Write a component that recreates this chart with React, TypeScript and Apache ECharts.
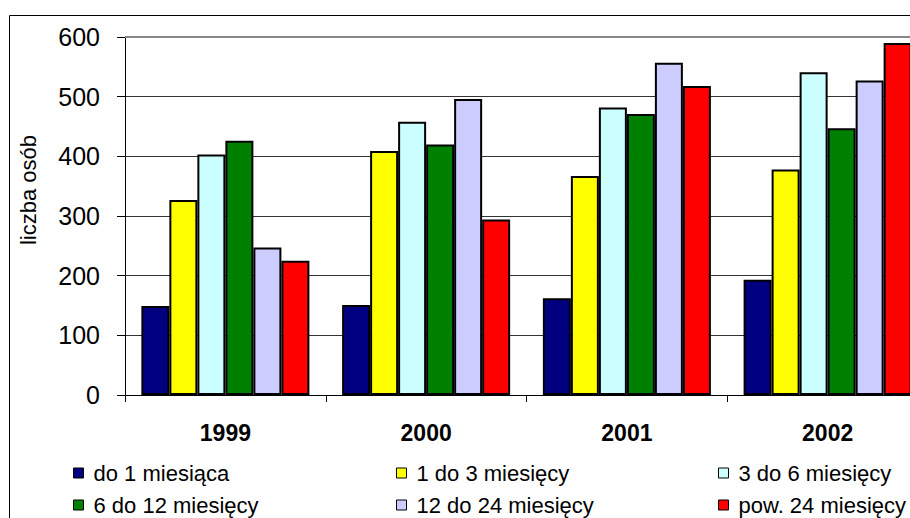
import React, { useEffect, useRef } from "react";
import * as echarts from "echarts";

const categories = ["1999", "2000", "2001", "2002"];
const seriesNames = [
  "do 1 miesiąca",
  "1 do 3 miesięcy",
  "3 do 6 miesięcy",
  "6 do 12 miesięcy",
  "12 do 24 miesięcy",
  "pow. 24 miesięcy",
];
const do1 = [149, 151, 162, 193];
const do1to3 = [327, 409, 367, 378];
const do3to6 = [403, 458, 482, 541];
const do6to12 = [426, 420, 471, 447];
const do12to24 = [247, 496, 557, 527];
const pow24 = [225, 294, 518, 590];
const seriesValues = [do1, do1to3, do3to6, do6to12, do12to24, pow24];
const colors = ["#000080", "#FFFF00", "#CCFFFF", "#008000", "#CCCCFF", "#FF0000"];
const yTicks = [0, 100, 200, 300, 400, 500, 600];
const yAxisTitle = "liczba osób";

const FONT = "'Liberation Sans', Arial, sans-serif";
const CHART_W = 1000;

export default function App() {
  const ref = useRef<HTMLDivElement>(null);
  useEffect(() => {
    if (!ref.current) return;
    const chart = echarts.init(ref.current, undefined, { renderer: "svg" });
    const legendPos = [
      { left: 73, top: 462 },
      { left: 396, top: 462 },
      { left: 718, top: 462 },
      { left: 73, top: 494 },
      { left: 396, top: 494 },
      { left: 718, top: 494 },
    ];
    chart.setOption({
      animation: false,
      backgroundColor: "#ffffff",
      textStyle: { fontFamily: FONT, color: "#000" },
      grid: { left: 125, right: CHART_W - 928, top: 37, bottom: 123, containLabel: false },
      legend: seriesNames.map((n, i) => ({
        data: [n],
        left: legendPos[i].left,
        top: legendPos[i].top,
        padding: 0,
        itemWidth: 10,
        itemHeight: 10,
        icon: "rect",
        itemStyle: { borderColor: "#000", borderWidth: 1 },
        textStyle: { fontFamily: FONT, fontSize: 22, color: "#000", padding: [0, 0, 0, 5] },
        selectedMode: false,
      })),
      xAxis: {
        type: "category",
        data: categories,
        axisLine: { show: true, lineStyle: { color: "#000", width: 1 } },
        axisTick: { show: true, length: 7, interval: 0, lineStyle: { color: "#000" } },
        axisLabel: { fontSize: 23, fontWeight: "bold", color: "#000", margin: 26, fontFamily: FONT },
        splitLine: { show: false },
      },
      yAxis: {
        type: "value",
        min: yTicks[0],
        max: yTicks[yTicks.length - 1],
        interval: 100,
        axisLine: { show: true, lineStyle: { color: "#000", width: 1 } },
        axisTick: { show: true, length: 8, lineStyle: { color: "#000" } },
        axisLabel: { fontSize: 25, color: "#000", margin: 25, fontFamily: FONT },
        splitLine: { show: true, showMaxLine: false, lineStyle: { color: "#333", width: 1 } },
      },
      graphic: [
        {
          type: "rect",
          shape: { x: 9.5, y: 15.5, width: 2000, height: 2000 },
          style: { fill: "none", stroke: "#000", lineWidth: 1 },
          silent: true,
          z: -1,
        },
        {
          type: "text",
          x: 28,
          y: 190,
          rotation: Math.PI / 2,
          style: {
            text: yAxisTitle,
            fontSize: 22,
            fontFamily: FONT,
            fill: "#000",
            textAlign: "center",
            textVerticalAlign: "middle",
          },
        },
      ],
      series: seriesNames.map((n, i) => ({
        name: n,
        type: "bar",
        data: seriesValues[i],
        barGap: "0%",
        barCategoryGap: "16.3%",
        itemStyle: { color: colors[i], borderColor: "#000000", borderWidth: 2, borderType: "solid" },
        ...(i === 0
          ? {
              markLine: {
                silent: true,
                symbol: "none",
                label: { show: false },
                lineStyle: { color: "#888", width: 2, type: "solid" },
                data: [{ yAxis: yTicks[yTicks.length - 1] }],
              },
            }
          : {}),
      })),
    });
    return () => chart.dispose();
  }, []);
  return (
    <div
      ref={ref}
      style={{ position: "fixed", left: 0, top: 0, width: CHART_W, height: 518 }}
    />
  );
}
